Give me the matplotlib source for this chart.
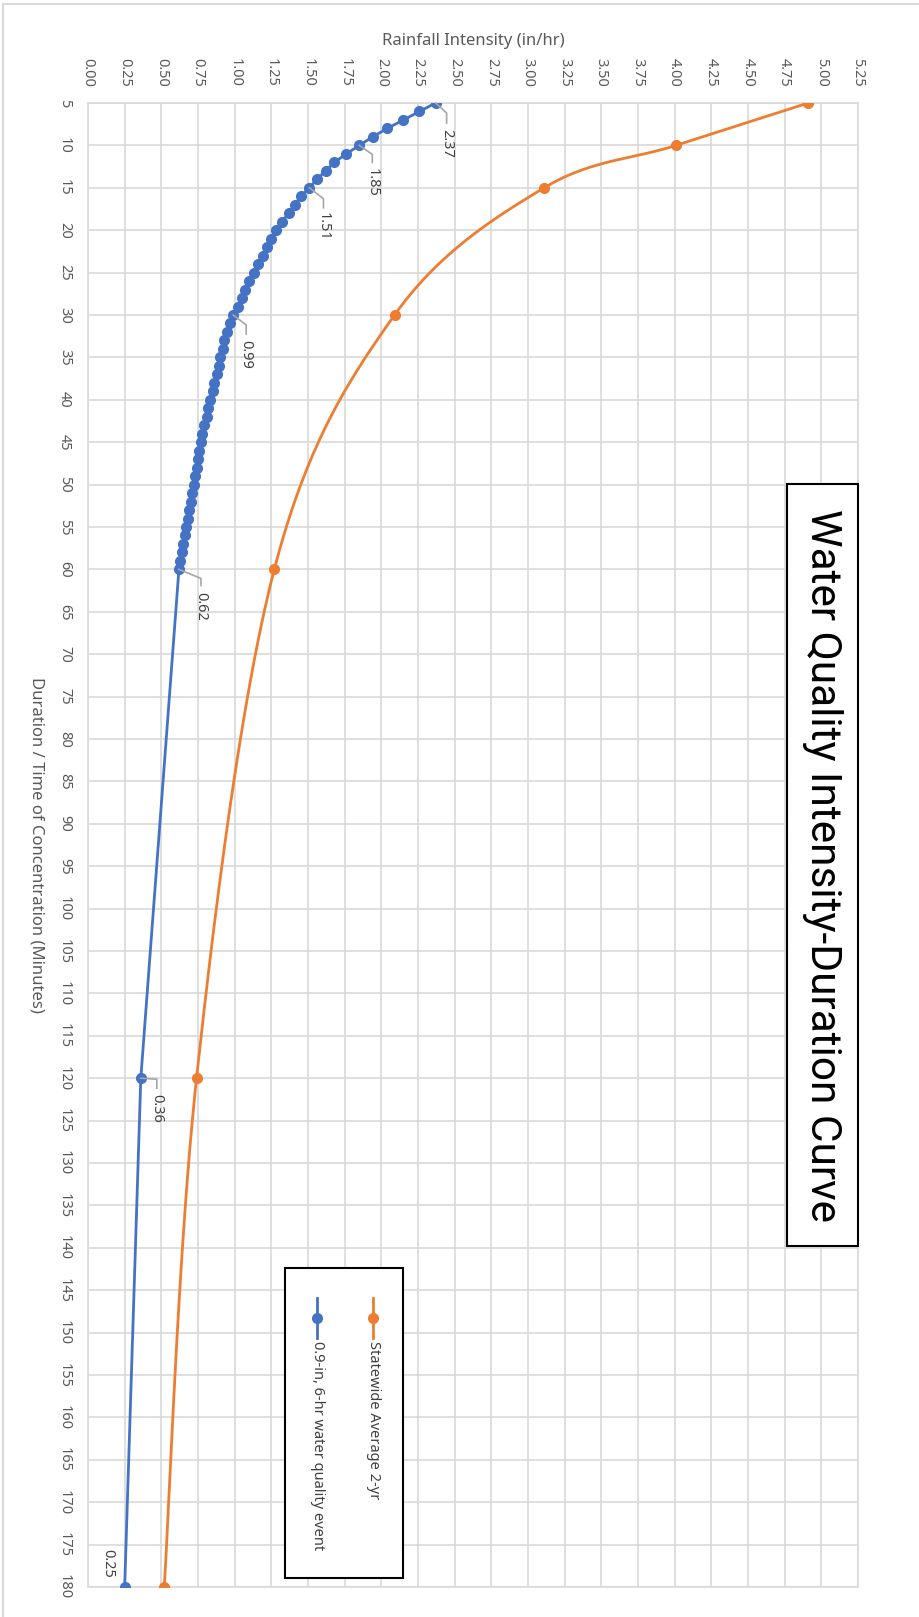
import numpy as np
import matplotlib
matplotlib.use('Agg')
import matplotlib.pyplot as plt
from matplotlib.lines import Line2D
from matplotlib.patches import Rectangle
from matplotlib.transforms import IdentityTransform

# --- data ---
blue_minutes = list(range(5, 61)) + [120, 180]
blue_values = [2.37, 2.26, 2.15, 2.04, 1.94, 1.85, 1.76, 1.68, 1.62, 1.56,
               1.51, 1.45, 1.41, 1.37, 1.32, 1.28, 1.25, 1.22, 1.19, 1.16,
               1.13, 1.10, 1.07, 1.05, 1.02, 0.99, 0.97, 0.95, 0.93, 0.92,
               0.90, 0.89, 0.88, 0.86, 0.85, 0.83, 0.82, 0.81, 0.79, 0.78,
               0.77, 0.76, 0.75, 0.74, 0.73, 0.72, 0.71, 0.70, 0.69, 0.68,
               0.67, 0.66, 0.65, 0.64, 0.63, 0.62,
               0.36, 0.25]
orange_minutes = [5, 10, 15, 30, 60, 120, 180]
orange_values = [4.91, 4.01, 3.11, 2.09, 1.27, 0.74, 0.52]

label_minutes = [5, 10, 15, 30, 60, 120]
label_texts = ['2.37', '1.85', '1.51', '0.99', '0.62', '0.36']
# leader offsets in pixels (dx, dy bend, dy end, dy text)
label_offsets = [(11, 10, 20, 26), (13, 9, 17, 23), (14, 11, 20, 24),
                 (13, 10, 19, 25), (22, 9, 16, 23), (16, 1, 10, 16)]

x_ticks = np.arange(0, 5.26, 0.25)
y_ticks = np.arange(5, 181, 5)

series_names = ['Statewide Average 2-yr', '0.9-in, 6-hr water quality event']
title = 'Water Quality Intensity-Duration Curve'

blue = '#4472C4'
orange = '#ED7D31'
grid_c = '#D9D9D9'
txt_c = '#595959'
font = ['Noto Sans', 'DejaVu Sans']
plt.rcParams['font.family'] = font


def smooth(xs, ys, n=40):
    # catmull-rom style smoothing like Excel's "smoothed line"
    p = np.column_stack([xs, ys]).astype(float)
    p = np.vstack([p[0], p, p[-1]])
    out = []
    t = np.linspace(0, 1, n)[:, None]
    for i in range(1, len(p) - 2):
        p0, p1, p2, p3 = p[i - 1], p[i], p[i + 1], p[i + 2]
        c1 = p1 + (p2 - p0) / 6
        c2 = p2 - (p3 - p1) / 6
        seg = ((1 - t) ** 3) * p1 + 3 * ((1 - t) ** 2) * t * c1 + 3 * (1 - t) * t ** 2 * c2 + t ** 3 * p2
        out.append(seg)
    out = np.vstack(out)
    return out[:, 0], out[:, 1]


fig = plt.figure(figsize=(9.2, 16.17), dpi=100)
ax = fig.add_axes([88 / 920, 30 / 1617, 770 / 920, 1484 / 1617])

# outer chart border (top and left visible)
fig.add_artist(Line2D([3 / 920, 3 / 920], [0, 1 - 4 / 1617], color=grid_c, lw=1.5))
fig.add_artist(Line2D([3 / 920, 1], [1 - 4 / 1617, 1 - 4 / 1617], color=grid_c, lw=1.5))

ax.set_xlim(0, 5.25)
ax.set_ylim(180, 5)
ax.set_xticks(x_ticks)
ax.set_xticklabels(['%.2f' % v for v in x_ticks])
ax.set_yticks(y_ticks)
ax.set_yticklabels([str(v) for v in y_ticks])
ax.xaxis.tick_top()
ax.tick_params(axis='x', length=0, pad=11.5, labelrotation=-90, labelsize=10.5, labelcolor=txt_c)
ax.tick_params(axis='y', length=0, pad=11.5, labelrotation=-90, labelsize=10.5, labelcolor=txt_c)
for lab in ax.get_yticklabels():
    lab.set_va('center')
ax.grid(True, color=grid_c, lw=1.2)
ax.set_axisbelow(True)
for s in ax.spines.values():
    s.set_color(grid_c)
    s.set_linewidth(1.2)

ax.set_xlabel('Rainfall Intensity (in/hr)', fontsize=12, color=txt_c)
ax.xaxis.set_label_position('top')
ax.xaxis.set_label_coords(0.5, (1587 - 41) / 1484)
ax.xaxis.label.set_va('center')
ax.set_ylabel('Duration / Time of Concentration (Minutes)', fontsize=12, color=txt_c,
              rotation=-90, va='center', ha='center')
ax.yaxis.set_label_coords((36 - 88) / 770, 0.5)

# series
sx, sy = smooth(orange_values, orange_minutes)
ax.plot(sx, sy, color=orange, lw=2, zorder=3)
ax.plot(orange_values, orange_minutes, 'o', color=orange, ms=7, zorder=4)
ax.plot(blue_values, blue_minutes, '-o', color=blue, lw=2, ms=7, zorder=5)

# data labels with leader lines
for t, txt, (dx, dy1, dy2, dyt) in zip(label_minutes, label_texts, label_offsets):
    v = blue_values[blue_minutes.index(t)]
    px, py = ax.transData.transform((v, t))
    fig.add_artist(Line2D([px, px + dx, px + dx], [py, py - dy1, py - dy2],
                          color='#A6A6A6', lw=1.2, transform=IdentityTransform(), zorder=6))
    ax.annotate(txt, xy=(v, t), xytext=(dx, -dyt), textcoords='offset pixels',
                rotation=-90, ha='center', va='top', fontsize=10.5, color='#404040')
ax.annotate('0.25', xy=(blue_values[-1], blue_minutes[-1]), xytext=(-17, 9),
            textcoords='offset pixels', rotation=-90, ha='center', va='bottom',
            fontsize=10.5, color='#404040')

# title box
ax.add_patch(Rectangle((699 / 770, (1587 - 1246) / 1484), 71 / 770, 762 / 1484,
                       transform=ax.transAxes, facecolor='white', edgecolor='black',
                       lw=1.5, zorder=7, clip_on=False))
ax.text(734.5 / 770, (1587 - 865) / 1484, title, transform=ax.transAxes, rotation=-90,
        ha='center', va='center', fontsize=30.5, color='black', zorder=8,
        family=['Roboto', 'DejaVu Sans'])

# legend box
ax.add_patch(Rectangle((197 / 770, 9 / 1484), 118 / 770, 310 / 1484,
                       transform=ax.transAxes, facecolor='white', edgecolor='black',
                       lw=1.5, zorder=7))
for name, col, xp in zip(series_names, [orange, blue], [285, 229]):
    xa = xp / 770
    ax.add_artist(Line2D([xa, xa], [(1587 - 1298) / 1484, (1587 - 1338) / 1484], color=col,
                         lw=2, transform=ax.transAxes, zorder=8))
    ax.add_artist(Line2D([xa], [(1587 - 1318) / 1484], marker='o', ms=7, color=col,
                         transform=ax.transAxes, zorder=8))
    ax.text(xa, (1587 - 1341) / 1484, name, transform=ax.transAxes, rotation=-90,
            ha='center', va='top', fontsize=10.5, color='#404040', zorder=8)

fig.savefig('out.png', dpi=100)
